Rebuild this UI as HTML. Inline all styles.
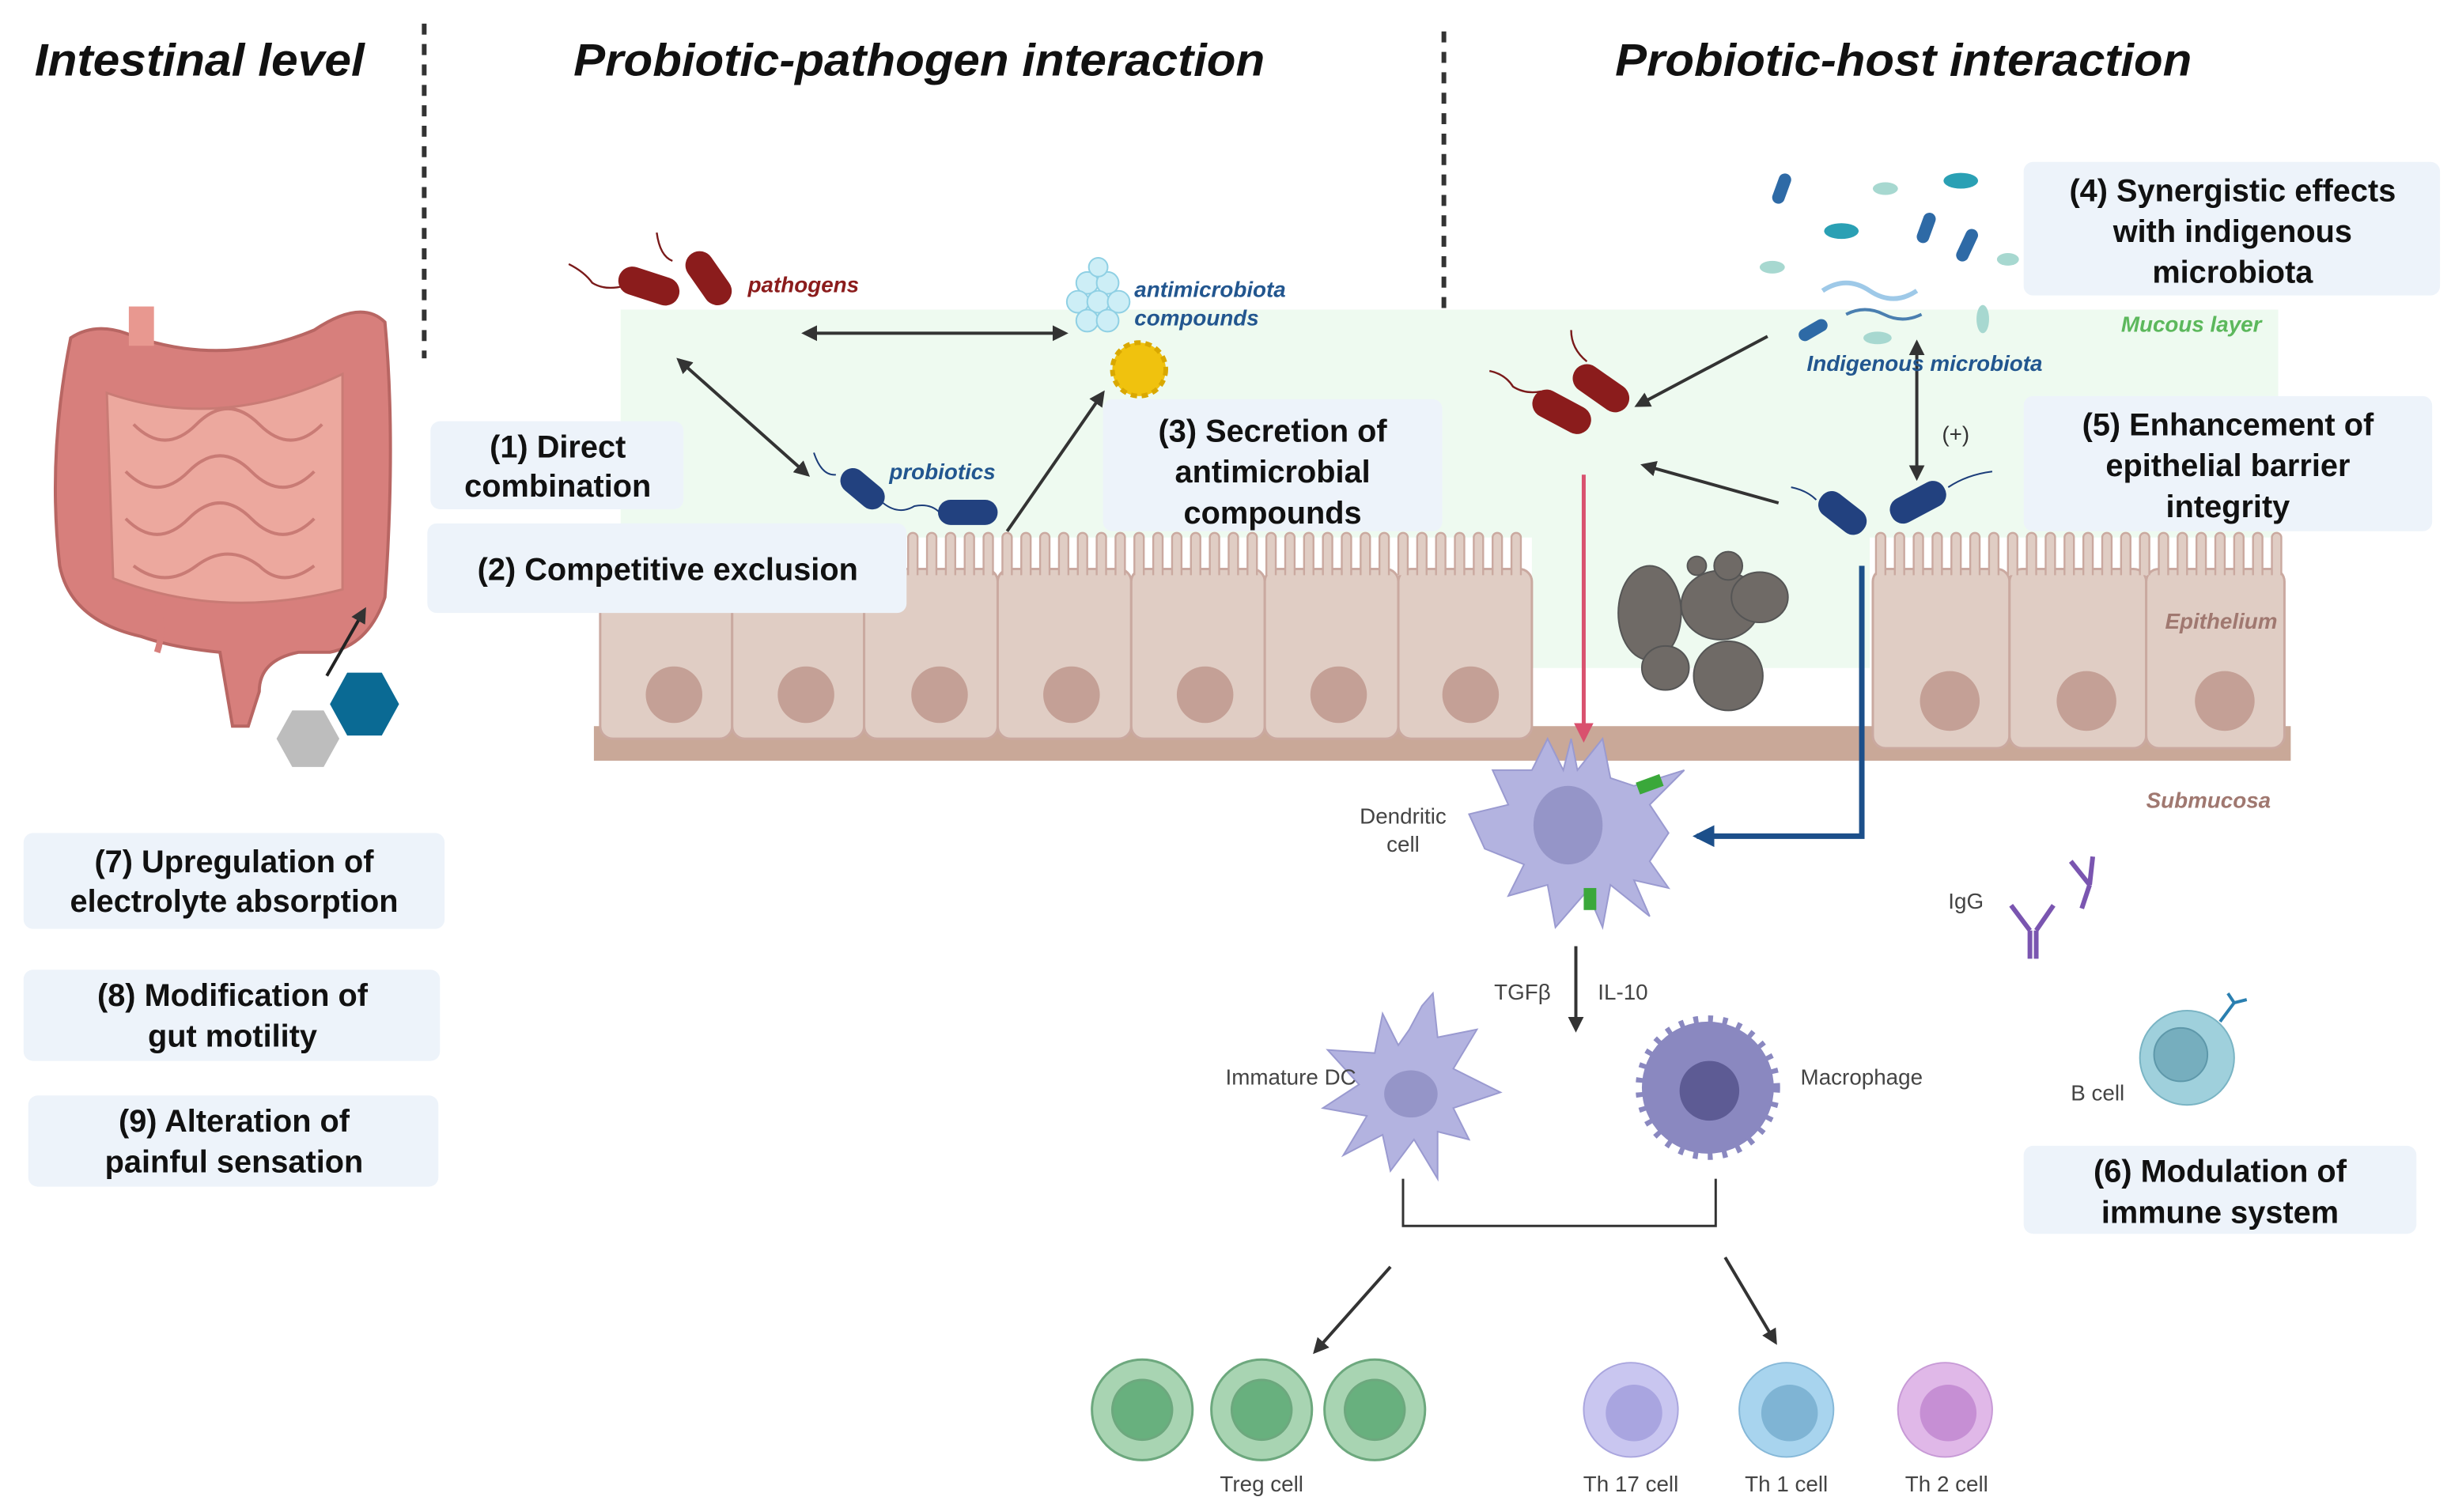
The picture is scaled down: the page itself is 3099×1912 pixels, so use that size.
<!DOCTYPE html>
<html><head><meta charset="utf-8"><style>
html,body{margin:0;padding:0;background:#fff;}
svg{display:block;}
text{font-family:"Liberation Sans",sans-serif;}
.t{font-size:29px;font-weight:bold;font-style:italic;fill:#111;}
.b{font-size:20px;font-weight:bold;fill:#111;text-anchor:middle;}
.s{font-size:14px;fill:#444;}
.box{fill:#edf3fa;}
</style></head><body>
<svg width="3099" height="1912" viewBox="0 0 1560 962" preserveAspectRatio="none" xmlns="http://www.w3.org/2000/svg">
<defs>
<marker id="ah" viewBox="0 0 10 10" refX="8" refY="5" markerWidth="5" markerHeight="5" orient="auto-start-reverse"><path d="M0,0L10,5L0,10z" fill="#333"/></marker>
<marker id="ap" viewBox="0 0 10 10" refX="8" refY="5" markerWidth="5" markerHeight="5" orient="auto"><path d="M0,0L10,5L0,10z" fill="#d9516e"/></marker>
<marker id="ab" viewBox="0 0 10 10" refX="8" refY="5" markerWidth="4" markerHeight="4" orient="auto"><path d="M0,0L10,5L0,10z" fill="#1c4f8a"/></marker>
</defs>
<!-- titles -->
<text x="22" y="48" class="t" textLength="210" lengthAdjust="spacingAndGlyphs">Intestinal level</text>
<text x="365" y="48" class="t" textLength="440" lengthAdjust="spacingAndGlyphs">Probiotic-pathogen interaction</text>
<text x="1028" y="48" class="t" textLength="367" lengthAdjust="spacingAndGlyphs">Probiotic-host interaction</text>
<line x1="270" y1="15" x2="270" y2="228" stroke="#333" stroke-width="3" stroke-dasharray="7,6"/>
<line x1="919" y1="20" x2="919" y2="232" stroke="#333" stroke-width="3" stroke-dasharray="7,6"/>
<!-- mucous -->
<rect x="395" y="197" width="1055" height="145" fill="#eefaf0"/>
<rect x="975" y="330" width="215" height="95" fill="#eefaf0"/>
<!-- submucosa band -->
<rect x="378" y="462" width="1080" height="22" fill="#c9a898"/>
<!-- epithelium -->
<g fill="#e0cdc4" stroke="#caa9a0" stroke-width="1.5">
<rect x="382" y="362" width="84" height="108" rx="8"/><rect x="466" y="362" width="84" height="108" rx="8"/>
<rect x="550" y="362" width="85" height="108" rx="8"/><rect x="635" y="362" width="85" height="108" rx="8"/>
<rect x="720" y="362" width="85" height="108" rx="8"/><rect x="805" y="362" width="85" height="108" rx="8"/>
<rect x="890" y="362" width="85" height="108" rx="8"/>
<rect x="1192" y="362" width="87" height="114" rx="8"/><rect x="1279" y="362" width="87" height="114" rx="8"/><rect x="1366" y="362" width="88" height="114" rx="8"/>
</g>
<g fill="#e0cdc4" stroke="#caa9a0" stroke-width="1.2">
<path d="M578 366 V342 a3 3 0 0 1 6 0 V366 M590 366 V342 a3 3 0 0 1 6 0 V366 M602 366 V342 a3 3 0 0 1 6 0 V366 M614 366 V342 a3 3 0 0 1 6 0 V366 M626 366 V342 a3 3 0 0 1 6 0 V366 M638 366 V342 a3 3 0 0 1 6 0 V366 M650 366 V342 a3 3 0 0 1 6 0 V366 M662 366 V342 a3 3 0 0 1 6 0 V366 M674 366 V342 a3 3 0 0 1 6 0 V366 M686 366 V342 a3 3 0 0 1 6 0 V366 M698 366 V342 a3 3 0 0 1 6 0 V366 M710 366 V342 a3 3 0 0 1 6 0 V366 M722 366 V342 a3 3 0 0 1 6 0 V366 M734 366 V342 a3 3 0 0 1 6 0 V366 M746 366 V342 a3 3 0 0 1 6 0 V366 M758 366 V342 a3 3 0 0 1 6 0 V366 M770 366 V342 a3 3 0 0 1 6 0 V366 M782 366 V342 a3 3 0 0 1 6 0 V366 M794 366 V342 a3 3 0 0 1 6 0 V366 M806 366 V342 a3 3 0 0 1 6 0 V366 M818 366 V342 a3 3 0 0 1 6 0 V366 M830 366 V342 a3 3 0 0 1 6 0 V366 M842 366 V342 a3 3 0 0 1 6 0 V366 M854 366 V342 a3 3 0 0 1 6 0 V366 M866 366 V342 a3 3 0 0 1 6 0 V366 M878 366 V342 a3 3 0 0 1 6 0 V366 M890 366 V342 a3 3 0 0 1 6 0 V366 M902 366 V342 a3 3 0 0 1 6 0 V366 M914 366 V342 a3 3 0 0 1 6 0 V366 M926 366 V342 a3 3 0 0 1 6 0 V366 M938 366 V342 a3 3 0 0 1 6 0 V366 M950 366 V342 a3 3 0 0 1 6 0 V366 M962 366 V342 a3 3 0 0 1 6 0 V366"/>
<path d="M1194 366 V342 a3 3 0 0 1 6 0 V366 M1206 366 V342 a3 3 0 0 1 6 0 V366 M1218 366 V342 a3 3 0 0 1 6 0 V366 M1230 366 V342 a3 3 0 0 1 6 0 V366 M1242 366 V342 a3 3 0 0 1 6 0 V366 M1254 366 V342 a3 3 0 0 1 6 0 V366 M1266 366 V342 a3 3 0 0 1 6 0 V366 M1278 366 V342 a3 3 0 0 1 6 0 V366 M1290 366 V342 a3 3 0 0 1 6 0 V366 M1302 366 V342 a3 3 0 0 1 6 0 V366 M1314 366 V342 a3 3 0 0 1 6 0 V366 M1326 366 V342 a3 3 0 0 1 6 0 V366 M1338 366 V342 a3 3 0 0 1 6 0 V366 M1350 366 V342 a3 3 0 0 1 6 0 V366 M1362 366 V342 a3 3 0 0 1 6 0 V366 M1374 366 V342 a3 3 0 0 1 6 0 V366 M1386 366 V342 a3 3 0 0 1 6 0 V366 M1398 366 V342 a3 3 0 0 1 6 0 V366 M1410 366 V342 a3 3 0 0 1 6 0 V366 M1422 366 V342 a3 3 0 0 1 6 0 V366 M1434 366 V342 a3 3 0 0 1 6 0 V366 M1446 366 V342 a3 3 0 0 1 6 0 V366"/>
</g>
<g fill="#c4a096">
<circle cx="429" cy="442" r="18"/><circle cx="513" cy="442" r="18"/><circle cx="598" cy="442" r="18"/><circle cx="682" cy="442" r="18"/><circle cx="767" cy="442" r="18"/><circle cx="852" cy="442" r="18"/><circle cx="936" cy="442" r="18"/>
<circle cx="1241" cy="446" r="19"/><circle cx="1328" cy="446" r="19"/><circle cx="1416" cy="446" r="19"/>
</g>
<text x="1378" y="400" style="font-size:14px;font-weight:bold;font-style:italic;fill:#a07870">Epithelium</text>
<text x="1366" y="514" style="font-size:14px;font-weight:bold;font-style:italic;fill:#a07870">Submucosa</text>
<text x="1350" y="211" style="font-size:14px;font-weight:bold;font-style:italic;fill:#5cb85c">Mucous layer</text>
<!-- gut -->
<g>
<path d="M45 215 Q60 205 80 212 Q140 235 200 210 Q230 190 245 205 Q252 280 245 380 Q235 410 210 415 L190 415 Q165 420 165 440 L158 462 L148 462 L140 415 Q110 412 90 405 Q45 395 38 360 Q30 290 45 215z" fill="#d77f7c" stroke="#b86663" stroke-width="2"/>
<path d="M68 250 Q140 275 218 238 L218 375 Q140 395 72 368z" fill="#eca89e" stroke="#c97b75" stroke-width="1.5"/>
<path d="M85 270 q20 20 40 0 q20 -20 40 0 q20 20 40 0 M80 300 q20 20 40 0 q20 -20 40 0 q20 20 40 0 M80 330 q20 20 40 0 q20 -20 40 0 q20 20 40 0 M85 360 q20 15 40 0 q20 -15 40 0 q15 15 35 0" fill="none" stroke="#c97b75" stroke-width="2"/>
<rect x="82" y="195" width="16" height="25" fill="#e89890"/>
<path d="M100 385 q5 15 0 30" stroke="#d77f7c" stroke-width="4" fill="none"/>
</g>
<line x1="208" y1="430" x2="232" y2="388" stroke="#222" stroke-width="2" marker-end="url(#ah)"/>
<polygon points="176,470 186,452 206,452 216,470 206,488 186,488" fill="#bdbdbd"/>
<polygon points="210,448 221,428 243,428 254,448 243,468 221,468" fill="#0a6a94"/>
<!-- boxes -->
<rect class="box" x="274" y="268" width="161" height="56" rx="6"/>
<text class="b" x="355" y="291">(1) Direct</text><text class="b" x="355" y="316">combination</text>
<rect class="box" x="272" y="333" width="305" height="57" rx="6"/>
<text class="b" x="425" y="369">(2) Competitive exclusion</text>
<rect class="box" x="702" y="254" width="216" height="84" rx="6"/>
<text class="b" x="810" y="281">(3) Secretion of</text><text class="b" x="810" y="307">antimicrobial</text><text class="b" x="810" y="333">compounds</text>
<rect class="box" x="1288" y="103" width="265" height="85" rx="6"/>
<text class="b" x="1421" y="128">(4) Synergistic effects</text><text class="b" x="1421" y="154">with indigenous</text><text class="b" x="1421" y="180">microbiota</text>
<rect class="box" x="1288" y="252" width="260" height="86" rx="6"/>
<text class="b" x="1418" y="277">(5) Enhancement of</text><text class="b" x="1418" y="303">epithelial barrier</text><text class="b" x="1418" y="329">integrity</text>
<rect class="box" x="1288" y="729" width="250" height="56" rx="6"/>
<text class="b" x="1413" y="752">(6) Modulation of</text><text class="b" x="1413" y="778">immune system</text>
<rect class="box" x="15" y="530" width="268" height="61" rx="6"/>
<text class="b" x="149" y="555">(7) Upregulation of</text><text class="b" x="149" y="580">electrolyte absorption</text>
<rect class="box" x="15" y="617" width="265" height="58" rx="6"/>
<text class="b" x="148" y="640">(8) Modification of</text><text class="b" x="148" y="666">gut motility</text>
<rect class="box" x="18" y="697" width="261" height="58" rx="6"/>
<text class="b" x="149" y="720">(9) Alteration of</text><text class="b" x="149" y="746">painful sensation</text>
<!-- pathogens top -->
<g stroke="#7a1a1a" fill="none" stroke-width="1.2"><path d="M362 168 q10 5 15 12 q8 5 20 2"/><path d="M418 148 q2 15 10 18"/></g>
<rect x="393" y="173" width="40" height="18" rx="9" fill="#8b1c1c" transform="rotate(18 413 182)"/>
<rect x="432" y="168" width="38" height="18" rx="9" fill="#8b1c1c" transform="rotate(55 451 177)"/>
<text x="476" y="186" style="font-size:14px;font-weight:bold;font-style:italic;fill:#8b1c1c">pathogens</text>
<line x1="512" y1="212" x2="678" y2="212" stroke="#333" stroke-width="2" marker-start="url(#ah)" marker-end="url(#ah)"/>
<line x1="432" y1="229" x2="514" y2="302" stroke="#333" stroke-width="2" marker-start="url(#ah)" marker-end="url(#ah)"/>
<path d="M518 288 q5 15 14 14" fill="none" stroke="#1c3d7a"/>
<rect x="533" y="303" width="32" height="16" rx="8" fill="#22417f" transform="rotate(40 549 311)"/>
<path d="M562 320 q10 8 20 2 q10 -2 16 4" fill="none" stroke="#1c3d7a"/>
<rect x="597" y="318" width="38" height="16" rx="8" fill="#22417f"/>
<text x="566" y="305" style="font-size:14px;font-weight:bold;font-style:italic;fill:#22568f">probiotics</text>
<line x1="641" y1="338" x2="702" y2="250" stroke="#333" stroke-width="2" marker-end="url(#ah)"/>
<g fill="#cdeef6" stroke="#8fd0e4" stroke-width="1">
<circle cx="692" cy="180" r="7"/><circle cx="705" cy="180" r="7"/><circle cx="686" cy="192" r="7"/><circle cx="699" cy="192" r="7"/><circle cx="712" cy="192" r="7"/><circle cx="692" cy="204" r="7"/><circle cx="705" cy="204" r="7"/><circle cx="699" cy="170" r="6"/>
</g>
<text x="722" y="189" style="font-size:14px;font-weight:bold;font-style:italic;fill:#22568f">antimicrobiota</text>
<text x="722" y="207" style="font-size:14px;font-weight:bold;font-style:italic;fill:#22568f">compounds</text>
<circle cx="725" cy="235" r="17" fill="#f0c20e" stroke="#d9a800" stroke-width="3" stroke-dasharray="4,3"/>
<!-- right side -->
<g stroke="#7a1a1a" fill="none" stroke-width="1.2"><path d="M948 236 q10 2 15 10 q8 5 18 3"/><path d="M1000 210 q0 12 10 20"/></g>
<rect x="974" y="253" width="40" height="18" rx="9" fill="#8b1c1c" transform="rotate(28 994 262)"/>
<rect x="999" y="238" width="40" height="18" rx="9" fill="#8b1c1c" transform="rotate(35 1019 247)"/>
<line x1="1125" y1="214" x2="1042" y2="258" stroke="#333" stroke-width="2" marker-end="url(#ah)"/>
<line x1="1132" y1="320" x2="1046" y2="296" stroke="#333" stroke-width="2" marker-end="url(#ah)"/>
<line x1="1220" y1="218" x2="1220" y2="304" stroke="#333" stroke-width="2" marker-start="url(#ah)" marker-end="url(#ah)"/>
<text x="1236" y="281" style="font-size:14px;fill:#333">(+)</text>
<path d="M1140 310 q10 2 16 8" fill="none" stroke="#1c3d7a"/>
<rect x="1156" y="318" width="34" height="17" rx="8" fill="#22417f" transform="rotate(38 1173 326)"/>
<path d="M1240 310 q12 -8 28 -10" fill="none" stroke="#1c3d7a"/>
<rect x="1202" y="311" width="38" height="17" rx="8" fill="#22417f" transform="rotate(-28 1221 320)"/>
<!-- indigenous microbiota -->
<g>
<rect x="1130" y="110" width="8" height="20" rx="4" fill="#2e6aa6" transform="rotate(20 1134 120)"/>
<rect x="1222" y="135" width="8" height="20" rx="4" fill="#2e6aa6" transform="rotate(20 1226 145)"/>
<rect x="1248" y="145" width="8" height="22" rx="4" fill="#2e6aa6" transform="rotate(25 1252 156)"/>
<rect x="1150" y="200" width="8" height="20" rx="4" fill="#2e6aa6" transform="rotate(60 1154 210)"/>
<ellipse cx="1172" cy="147" rx="11" ry="5" fill="#2aa0b4"/><ellipse cx="1248" cy="115" rx="11" ry="5" fill="#2aa0b4"/>
<ellipse cx="1200" cy="120" rx="8" ry="4" fill="#a7d8d0"/><ellipse cx="1128" cy="170" rx="8" ry="4" fill="#a7d8d0"/>
<ellipse cx="1278" cy="165" rx="7" ry="4" fill="#a7d8d0"/><ellipse cx="1195" cy="215" rx="9" ry="4" fill="#a7d8d0"/>
<ellipse cx="1262" cy="203" rx="4" ry="9" fill="#a7d8d0"/>
<path d="M1160 185 q15 -10 30 0 q15 10 30 0" fill="none" stroke="#9ec9e8" stroke-width="3"/>
<path d="M1175 200 q12 -6 24 0 q12 6 24 0" fill="none" stroke="#4a7fb0" stroke-width="2"/>
</g>
<text x="1150" y="236" style="font-size:14px;font-weight:bold;font-style:italic;fill:#22568f">Indigenous microbiota</text>
<!-- debris -->
<g fill="#6f6a66" stroke="#555" stroke-width="1">
<ellipse cx="1050" cy="390" rx="20" ry="30"/><ellipse cx="1095" cy="385" rx="25" ry="22"/><ellipse cx="1120" cy="380" rx="18" ry="16"/>
<ellipse cx="1100" cy="430" rx="22" ry="22"/><ellipse cx="1060" cy="425" rx="15" ry="14"/><circle cx="1100" cy="360" r="9"/><circle cx="1080" cy="360" r="6"/>
</g>
<!-- arrows to DC -->
<line x1="1008" y1="302" x2="1008" y2="470" stroke="#d9516e" stroke-width="2.5" marker-end="url(#ap)"/>
<polyline points="1185,360 1185,532 1080,532" fill="none" stroke="#1c4f8a" stroke-width="3.5" marker-end="url(#ab)"/>
<!-- dendritic cell -->
<g fill="#b3b3e0" stroke="#9a9ad0" stroke-width="1">
<path d="M1000 470 L1004 490 L1020 470 L1025 495 L1040 500 L1072 490 L1050 512 L1062 530 L1050 548 L1062 565 L1040 560 L1050 583 L1025 563 L1020 590 L1010 567 L990 590 L985 563 L960 570 L970 550 L945 540 L935 518 L960 512 L950 490 L975 490 L985 470 L995 490z"/>
</g>
<ellipse cx="998" cy="525" rx="22" ry="25" fill="#9595c8"/>
<rect x="1042" y="495" width="16" height="8" fill="#3aa83a" transform="rotate(-20 1050 499)"/>
<rect x="1008" y="565" width="8" height="14" fill="#3aa83a"/>
<text x="893" y="524" class="s" text-anchor="middle">Dendritic</text><text x="893" y="542" class="s" text-anchor="middle">cell</text>
<line x1="1003" y1="602" x2="1003" y2="655" stroke="#333" stroke-width="2" marker-end="url(#ah)"/>
<text x="951" y="636" class="s">TGFβ</text><text x="1017" y="636" class="s">IL-10</text>
<!-- immature DC -->
<g fill="#b3b3e0" stroke="#9a9ad0">
<path d="M897 655 L905 640 L912 632 L915 660 L940 655 L925 680 L955 695 L925 705 L935 725 L915 720 L915 750 L900 725 L885 745 L880 722 L855 735 L870 710 L842 705 L865 690 L845 668 L875 670 L880 645 L890 665z"/>
</g>
<ellipse cx="898" cy="696" rx="17" ry="15" fill="#9595c8"/>
<text x="780" y="690" class="s">Immature DC</text>
<!-- macrophage -->
<circle cx="1087" cy="692" r="42" fill="#8a88c0" stroke="#8a88c0" stroke-width="8" stroke-dasharray="3,6"/>
<circle cx="1087" cy="692" r="40" fill="#8a88c0"/>
<circle cx="1088" cy="694" r="19" fill="#5d5b94"/>
<text x="1146" y="690" class="s">Macrophage</text>
<!-- bracket -->
<polyline points="893,750 893,780 1092,780 1092,750" fill="none" stroke="#333" stroke-width="1.5"/>
<line x1="885" y1="806" x2="837" y2="860" stroke="#333" stroke-width="2" marker-end="url(#ah)"/>
<line x1="1098" y1="800" x2="1130" y2="854" stroke="#333" stroke-width="2" marker-end="url(#ah)"/>
<!-- T cells -->
<g stroke="#6da87e" stroke-width="1.5">
<circle cx="727" cy="897" r="32" fill="#a8d4b2"/><circle cx="727" cy="897" r="19" fill="#68b07e"/>
<circle cx="803" cy="897" r="32" fill="#a8d4b2"/><circle cx="803" cy="897" r="19" fill="#68b07e"/>
<circle cx="875" cy="897" r="32" fill="#a8d4b2"/><circle cx="875" cy="897" r="19" fill="#68b07e"/>
</g>
<text x="803" y="949" class="s" text-anchor="middle">Treg cell</text>
<circle cx="1038" cy="897" r="30" fill="#c9c6f0" stroke="#aaa6de"/><circle cx="1040" cy="899" r="18" fill="#a9a5e0"/>
<circle cx="1137" cy="897" r="30" fill="#a8d4ee" stroke="#86b8d8"/><circle cx="1139" cy="899" r="18" fill="#7fb4d4"/>
<circle cx="1238" cy="897" r="30" fill="#e0b8e8" stroke="#c79ad6"/><circle cx="1240" cy="899" r="18" fill="#c68fd4"/>
<text x="1038" y="949" class="s" text-anchor="middle">Th 17 cell</text>
<text x="1137" y="949" class="s" text-anchor="middle">Th 1 cell</text>
<text x="1239" y="949" class="s" text-anchor="middle">Th 2 cell</text>
<!-- IgG -->
<text x="1240" y="578" class="s">IgG</text>
<g stroke="#7a55b0" stroke-width="3" fill="none">
<path d="M1292 610 V592 M1296 610 V592 M1292 592 L1280 576 M1296 592 L1307 576"/>
<path d="M1325 578 L1330 563 M1330 563 L1318 548 M1330 563 L1332 545"/>
</g>
<!-- B cell -->
<circle cx="1392" cy="673" r="30" fill="#9fd0dc" stroke="#7ab4c4"/>
<circle cx="1388" cy="671" r="17" fill="#76aebe" stroke="#5e98aa"/>
<path d="M1413 650 L1422 638 M1422 638 L1418 632 M1422 638 L1430 636" stroke="#2a7fb0" stroke-width="2" fill="none"/>
<text x="1318" y="700" class="s">B cell</text>
</svg>
</body></html>
